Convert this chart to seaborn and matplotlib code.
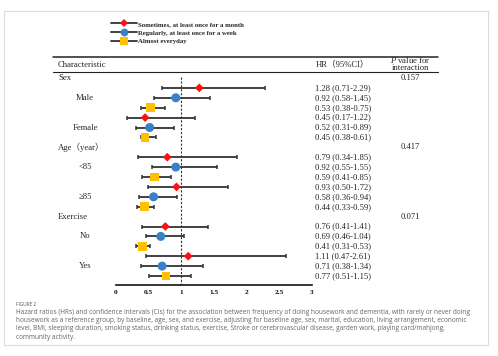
import numpy as np
import pandas as pd
import matplotlib
matplotlib.use("Agg")
import matplotlib.pyplot as plt
import matplotlib.transforms as mtransforms
from matplotlib.lines import Line2D
from matplotlib.patches import Rectangle
import seaborn as sns

# data
groups = ["Sex", "Age（year）", "Exercise"]
subgroups = ["Male", "Female", "<85", "≥85", "No", "Yes"]
freq_labels = ["Sometimes, at least once for a month",
               "Regularly, at least once for a week",
               "Almost everyday"]
hr = [1.28, 0.92, 0.53, 0.45, 0.52, 0.45,
      0.79, 0.92, 0.59, 0.93, 0.58, 0.44,
      0.76, 0.69, 0.41, 1.11, 0.71, 0.77]
ci_low = [0.71, 0.58, 0.38, 0.17, 0.31, 0.38,
          0.34, 0.55, 0.41, 0.50, 0.36, 0.33,
          0.41, 0.46, 0.31, 0.47, 0.38, 0.51]
ci_high = [2.29, 1.45, 0.75, 1.22, 0.89, 0.61,
           1.85, 1.55, 0.85, 1.72, 0.94, 0.59,
           1.41, 1.04, 0.53, 2.61, 1.34, 1.15]
p_values = ["0.157", "0.417", "0.071"]
x_ticks = [0, 0.5, 1, 1.5, 2, 2.5, 3]

caption = ("Hazard ratios (HRs) and confidence intervals (CIs) for the association between frequency of doing housework and dementia, with rarely or never doing\n"
           "housework as a reference group, by baseline, age, sex, and exercise, adjusting for baseline age, sex, marital, education, living arrangement, economic\n"
           "level, BMI, sleeping duration, smoking status, drinking status, exercise, Stroke or cerebrovascular disease, garden work, playing card/mahjong,\n"
           "community activity.")

colors = {freq_labels[0]: "#FF1010", freq_labels[1]: "#3A80C6", freq_labels[2]: "#FFC000"}
markers = {freq_labels[0]: "D", freq_labels[1]: "o", freq_labels[2]: "s"}
sizes = {freq_labels[0]: 20, freq_labels[1]: 42, freq_labels[2]: 40}

# build table
rows = []
for i in range(len(hr)):
    g, rest = divmod(i, 6)
    s, f = divmod(rest, 3)
    rows.append({"group": groups[g], "sub": subgroups[g * 2 + s], "freq": freq_labels[f],
                 "hr": hr[i], "lo": ci_low[i], "hi": ci_high[i],
                 "row": g * 7 + s * 3 + f + 1})
df = pd.DataFrame(rows)

sns.set_style("white")
plt.rcParams["font.family"] = ["Liberation Serif", "Noto Sans CJK SC"]
plt.rcParams["mathtext.fontset"] = "custom"
plt.rcParams["mathtext.it"] = "Liberation Serif:italic"
plt.rcParams["mathtext.rm"] = "Liberation Serif"

W, H = 498, 356
fig = plt.figure(figsize=(W / 100, H / 100), dpi=100)

def fx(px):
    return px / W

def fy(py):
    return 1 - py / H

ax = fig.add_axes([fx(115.7), fy(285), fx(196), (285 - 72) / H])
row0, step = 78.0, 9.9
ax.set_ylim((285 - row0) / step, (72 - row0) / step)
ax.set_xlim(0, 3)

# reference line
ax.plot([1, 1], [-0.15, ax.get_ylim()[0]], ls=(0, (2, 1.5)), color="#333333", lw=0.8, zorder=1)

ax.errorbar(df["hr"], df["row"], xerr=[df["hr"] - df["lo"], df["hi"] - df["hr"]],
            fmt="none", ecolor="#333333", elinewidth=1.3, capsize=1.3, capthick=1.1, zorder=2)
sns.scatterplot(data=df, x="hr", y="row", hue="freq", style="freq", size="freq",
                palette=colors, markers=markers, sizes=sizes, linewidth=0,
                legend=False, ax=ax, zorder=3)

sns.despine(ax=ax, left=True, top=True, right=True)
ax.spines["bottom"].set_linewidth(1.2)
ax.spines["bottom"].set_color("#111111")
ax.set_xticks(x_ticks)
ax.set_xticklabels([f"{t:g}" for t in x_ticks], fontweight="bold", fontsize=5.3)
ax.tick_params(axis="x", direction="in", length=2.5, width=1, pad=3.5, colors="#111111")
ax.set_yticks([])
ax.set_xlabel("")
ax.set_ylabel("")
ax.patch.set_alpha(0)

tr = mtransforms.blended_transform_factory(fig.transFigure, ax.transData)
fs = 6.2

# header
fig.add_artist(Line2D([fx(53), fx(438)], [fy(57), fy(57)], color="#222222", lw=1.1))
fig.add_artist(Line2D([fx(53), fx(438)], [fy(72), fy(72)], color="#222222", lw=0.8))
fig.text(fx(58), fy(65), "Characteristic", fontsize=fs, va="center", ha="left")
fig.text(fx(316), fy(65), "HR（95%CI）", fontsize=fs, va="center", ha="left")
fig.text(fx(410), fy(60), r"$\it{P}$ value for", fontsize=fs, va="center", ha="center")
fig.text(fx(410), fy(68.5), "interaction", fontsize=fs, va="center", ha="center")

for g, name in enumerate(groups):
    ax.text(fx(58), g * 7, name, transform=tr, fontsize=fs, va="center", ha="left")
    ax.text(fx(410), g * 7, p_values[g], transform=tr, fontsize=fs, va="center", ha="center")
    for s in range(2):
        ax.text(fx(85), g * 7 + s * 3 + 2, subgroups[g * 2 + s], transform=tr,
                fontsize=fs, va="center", ha="center")

for _, r in df.iterrows():
    ax.text(fx(315), r["row"], f"{r['hr']:.2f} ({r['lo']:.2f}-{r['hi']:.2f})",
            transform=tr, fontsize=fs, va="center", ha="left")

# legend
handles = [Line2D([], [], color="#333333", lw=1.3, marker=markers[k], markersize=ms,
                  markerfacecolor=colors[k], markeredgewidth=0)
           for k, ms in zip(freq_labels, [4.2, 5.6, 5.6])]
leg = fig.legend(handles, freq_labels, loc="upper left", bbox_to_anchor=(fx(111), fy(21)),
                 frameon=False, handlelength=3.8, handletextpad=0.1, labelspacing=0.45,
                 borderpad=0, borderaxespad=0, prop={"weight": "bold", "size": 4.9})

# caption block
fig.text(fx(16), fy(304.5), "FIGURE 2", fontsize=3.4, color="#555555", va="center",
         family="Open Sans")
fig.text(fx(16), fy(308.5), caption, fontsize=4.7, color="#666666", va="top", ha="left",
         family="Open Sans", linespacing=1.28)

fig.add_artist(Rectangle((fx(4), fy(345)), fx(484), (345 - 11) / H, fill=False,
                         edgecolor="#dcdcdc", lw=0.8))

fig.savefig("out.png", dpi=100)
